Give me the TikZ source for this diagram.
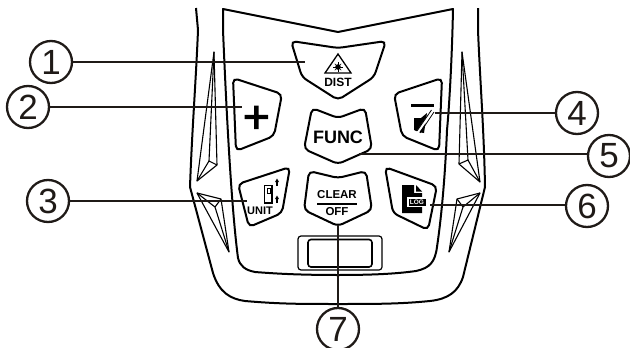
\documentclass[tikz,border=0pt]{standalone}
\usepackage{fontspec}
\setmainfont{Liberation Sans}
\definecolor{ink}{HTML}{1F1A17}
\newcommand{\lab}[1]{\fontsize{#1}{#1}\selectfont\bfseries}
\tikzset{
  body/.style={draw=black,line width=2pt,line join=round},
  btn/.style={draw=black,line width=2pt,rounded corners=5pt,fill=white},
  fin/.style={draw=black,line width=1.1pt,line join=round},
  callout/.style={circle,draw=ink,line width=2.3pt,minimum size=42pt,inner sep=0pt,font=\fontsize{35}{35}\selectfont,text=ink},
  leader/.style={draw=ink,line width=2.6pt},
  tag/.style={inner sep=0pt,text=black,anchor=center},
}
\begin{document}
\begin{tikzpicture}[x=1pt,y=-1pt]
\useasboundingbox (0,0) rectangle (630,348);
% outer body
\draw[body] (196,8) -- (198,30) .. controls (196,80) and (192,130) .. (190,187)
  -- (213,273) .. controls (219,292) and (230,299) .. (245,301)
  .. controls (280,304) and (300,304) .. (338,304)
  .. controls (376,304) and (400,304) .. (430,301)
  .. controls (448,299) and (458,292) .. (463,277)
  -- (485,187) .. controls (484,130) and (480,80) .. (478,30) -- (478,8);
% inner body
\draw[body] (223,9) -- (338,32) -- (453,9)
  .. controls (452,60) and (449,110) .. (447,130)
  .. controls (445,180) and (441,220) .. (437,247)
  .. controls (435,262) and (430,268) .. (416,271)
  .. controls (395,274) and (370,275) .. (338,275)
  .. controls (305,275) and (280,274) .. (255,272)
  .. controls (245,270) and (240,266) .. (238,258)
  .. controls (233,220) and (228,150) .. (223,30) -- cycle;
% fins
\draw[fin] (214,52) -- (197,181) -- (217,165) -- cycle;
\draw[fin] (214,52) -- (209,161) -- (197,181) (209,161) -- (217,165);
\draw[fin] (197,193) -- (221,199) -- (229,252) -- cycle;
\draw[fin] (197,193) -- (215,207) -- (229,252) (215,207) -- (221,199);
\draw[fin] (462,52) -- (480,182) -- (459,164) -- cycle;
\draw[fin] (462,52) -- (468,160) -- (480,182) (468,160) -- (459,164);
\draw[fin] (480,193) -- (457,199) -- (449,252) -- cycle;
\draw[fin] (480,193) -- (463,207) -- (449,252) (463,207) -- (457,199);
% buttons
\draw[btn] (291,41) -- (338,48) -- (386,41) -- (374,77) -- (338,100) -- (302,77) -- cycle;
\draw[btn] (233,78) -- (282,94) -- (274,136) -- (236,151) -- cycle;
\draw[btn] (442,78) -- (394,94) -- (402,136) -- (439,151) -- cycle;
\draw[btn] (312,108) -- (338,118) -- (365,108) -- (372,149) -- (338,164) -- (304,149) -- cycle;
\draw[btn] (238,184) -- (290,167) -- (282,213) -- (249,227) -- cycle;
\draw[btn] (385,167) -- (437,186) -- (428,230) -- (393,213) -- cycle;
\draw[btn] (309,171) -- (338,178) -- (366,171) -- (372,210) -- (338,226) -- (304,210) -- cycle;
% DIST icon
\draw[black,line width=1.3pt,line join=miter] (338,54) -- (325,73) -- (351,73) -- cycle;
\fill[black] (338,67) circle (2.8pt);
\foreach \a in {0,45,...,315}{\draw[black,line width=.6pt] (338,67) -- ++(\a:4.6pt);}
\node[tag] (dist) at (338,82) {\lab{12}DIST};
% plus
\fill[black] (254,105.5) rectangle (258.5,129) (244.5,114.8) rectangle (268,119.2);
% FUNC
\node[tag] (func) at (338,137) {\lab{18}FUNC};
% mute icon
\fill[black] (411,104) rectangle (434,107);
\fill[black] (414,118) -- (421,118) -- (427,113) -- (424,133) -- (418,132) -- (414,130) -- cycle;
\draw[white,line width=2.6pt] (433,110) -- (415,136);
\draw[black,line width=.8pt] (431.5,110) -- (417,131) (434,112) -- (420,133);
% UNIT icon
\draw[black,line width=1.6pt] (264.5,185.5) rectangle (272,203);
\draw[black,line width=1pt] (267,188.5) rectangle (270,193);
\draw[black,line width=1.2pt] (277,186) -- (277,181) (277,203) -- (277,198);
\fill[black] (275,182) -- (277,178.5) -- (279,182) -- cycle (275,199) -- (277,195.5) -- (279,199) -- cycle;
\node[tag] (unit) at (260,211) {\lab{11}UNIT};
% LOG icon
\fill[black] (402,185) -- (414,185) -- (414,193) -- (422,193) -- (422,213) -- (402,213) -- cycle;
\fill[black] (416,185) -- (422,191.5) -- (416,191.5) -- cycle;
\fill[white] (407,197) rectangle (427,207);
\fill[black] (408.5,198.5) rectangle (425.5,205.5);
\node[tag,text=white] (log) at (417,202) {\lab{6.5}LOG};
% CLEAR / OFF
\node[tag] (clear) at (337,195) {\lab{11.5}CLEAR};
\fill[black] (317,203) rectangle (357,205);
\node[tag] (off) at (337,212) {\lab{11.5}OFF};
% slot
\draw[black,line width=1.2pt,rounded corners=3pt] (298,236) rectangle (382,270);
\draw[black,line width=1.6pt,rounded corners=3pt] (308,239.5) rectangle (372,267);
% callouts
\node[callout] (n1) at (51,62) {1};
\node[callout] (n2) at (28,107) {2};
\node[callout] (n3) at (48,201) {3};
\node[callout] (n4) at (577,113) {4};
\node[callout] (n5) at (609,156) {5};
\node[callout] (n6) at (587,206) {6};
\node[callout] (n7) at (338,329) {7};
\coordinate (t1) at (305,62);
\coordinate (t2) at (242,107);
\coordinate (t3) at (247,201);
\coordinate (t4) at (435,113);
\coordinate (t5) at (359,154);
\coordinate (t6) at (430,205);
\coordinate (t7) at (338,225);
\draw[leader] (n1.east) -- (t1);
\draw[leader] (n2.east) -- (t2);
\draw[leader] (n3.east) -- (t3);
\draw[leader] (n4.west) -- (t4);
\draw[leader] (n5.west |- t5) -- (t5);
\draw[leader] (n6.west |- t6) -- (t6);
\draw[leader] (n7.north) -- (t7);
\end{tikzpicture}
\end{document}
